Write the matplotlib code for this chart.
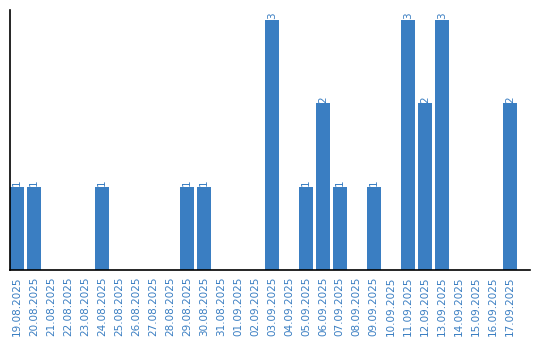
import matplotlib
matplotlib.use("Agg")
import matplotlib.pyplot as plt

dates = ["19.08.2025", "20.08.2025", "21.08.2025", "22.08.2025", "23.08.2025",
         "24.08.2025", "25.08.2025", "26.08.2025", "27.08.2025", "28.08.2025",
         "29.08.2025", "30.08.2025", "31.08.2025", "01.09.2025", "02.09.2025",
         "03.09.2025", "04.09.2025", "05.09.2025", "06.09.2025", "07.09.2025",
         "08.09.2025", "09.09.2025", "10.09.2025", "11.09.2025", "12.09.2025",
         "13.09.2025", "14.09.2025", "15.09.2025", "16.09.2025", "17.09.2025"]
counts = [1, 1, 0, 0, 0, 1, 0, 0, 0, 0, 1, 1, 0, 0, 0, 3, 0, 1, 2, 1,
          0, 1, 0, 3, 2, 3, 0, 0, 0, 2]

blue = "#3a7ec2"
fig = plt.figure(figsize=(5.4, 3.4), dpi=100)
ax = fig.add_axes([10/540, 70/340, 520/540, 260/340])
w = 14/17
xs = list(range(len(dates)))
ax.bar(xs, counts, width=w, align="edge", color=blue)
for x, v in zip(xs, counts):
    if v > 0:
        ax.text(x + w/2, v + 0.01, str(v), rotation=90, ha="center", va="bottom",
                color=blue, fontsize=7.5)
ax.set_xlim(0, 30.6)
ax.set_ylim(0, 3.12)
ax.set_xticks([x + w/2 for x in xs])
ax.set_xticklabels(dates, rotation=90, color=blue, fontsize=7.5)
ax.tick_params(axis="x", length=0, pad=5)
ax.set_yticks([])
for s in ["top", "right"]:
    ax.spines[s].set_visible(False)
for s in ["left", "bottom"]:
    ax.spines[s].set_linewidth(1.2)
    ax.spines[s].set_color("black")
fig.savefig("out.png", dpi=100)
